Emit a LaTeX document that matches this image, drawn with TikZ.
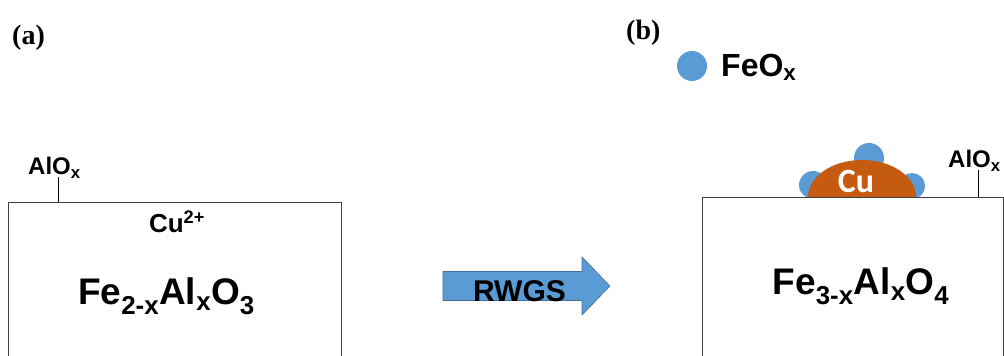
\documentclass[tikz,border=0pt]{standalone}
\usepackage{fontspec}
\setmainfont{Liberation Sans}
\newfontfamily\tnr{Liberation Serif}
\newfontfamily\calibri{Carlito}
\usetikzlibrary{positioning}
\definecolor{oxblue}{HTML}{5B9BD5}
\definecolor{oxedge}{HTML}{41719C}
\definecolor{cuorange}{HTML}{C55A11}
\tikzset{slab/.style={draw=black!75,line width=1.3pt,fill=white,inner sep=0pt,minimum height=260pt}}
\tikzset{tag/.style={font=\tnr\bfseries\fontsize{28}{28}\selectfont,inner sep=0pt,anchor=base west}}
\tikzset{chem/.style={font=\bfseries\fontsize{37}{37}\selectfont,inner sep=0pt,anchor=base}}
\tikzset{alo/.style={font=\bfseries\fontsize{24}{24}\selectfont,inner sep=0pt,anchor=base west}}
\tikzset{tick/.style={draw=black,line width=1pt}}
\tikzset{feo/.style={fill=oxblue}}

\begin{document}
\begin{tikzpicture}[x=1pt,y=1pt]
  \useasboundingbox (0,0) rectangle (1004,356);
  \clip (0,0) rectangle (1004,356);

  % (a) as prepared
  \node[tag] (labA) at (12,311) {(a)};
  \node[alo] (aloA) at (28,181) {AlO\textsubscript{x}};
  \coordinate (tickA) at (58,179);
  \node[slab,minimum width=333pt,anchor=north west] (slabA) at (8,154) {};
  \draw[tick] (tickA) -- (tickA |- slabA.north);
  \node[font=\bfseries\fontsize{26}{26}\selectfont,inner sep=0pt,anchor=base] (cuA) at (177,123) {Cu\textsuperscript{2+}};
  \node[chem] (bulkA) at (166.5,51) {Fe\textsubscript{2-x}Al\textsubscript{x}O\textsubscript{3}};

  % RWGS arrow
  \filldraw[fill=oxblue,draw=oxedge,line width=0.6pt]
    (443,55.5) -- (582,55.5) -- (582,41) -- (610,70) -- (582,99)
    -- (582,84.5) -- (443,84.5) -- cycle;
  \node[font=\bfseries\fontsize{30}{30}\selectfont,inner sep=0pt,anchor=base] (rwgs) at (519.5,54) {RWGS};

  % (b) after reaction
  \node[tag] (labB) at (626,316) {(b)};
  \node[circle,feo,minimum size=30pt,inner sep=0pt] (dot) at (692,290) {};
  \node[font=\bfseries\fontsize{32}{32}\selectfont,inner sep=0pt,anchor=base west] (feoLeg) at (721,279) {FeO\textsubscript{x}};

  % FeOx islands around the Cu particle
  \fill[feo] (869,198) circle (15);
  \fill[feo] (813,171) circle (14);
  \fill[feo] (912,170) circle (13);
  \fill[cuorange] (808,159) arc[start angle=180,end angle=0,x radius=54,y radius=37] -- cycle;
  \node[font=\calibri\bfseries\fontsize{34}{34}\selectfont,text=white,inner sep=0pt,anchor=base] (cuB) at (856,163) {Cu};

  \node[slab,minimum width=301pt,anchor=north west] (slabB) at (702,159) {};
  \node[alo] (aloB) at (948,188) {AlO\textsubscript{x}};
  \coordinate (tickB) at (978,186);
  \draw[tick] (tickB) -- (tickB |- slabB.north);
  \node[chem] (bulkB) at (861,61) {Fe\textsubscript{3-x}Al\textsubscript{x}O\textsubscript{4}};
\end{tikzpicture}
\end{document}
